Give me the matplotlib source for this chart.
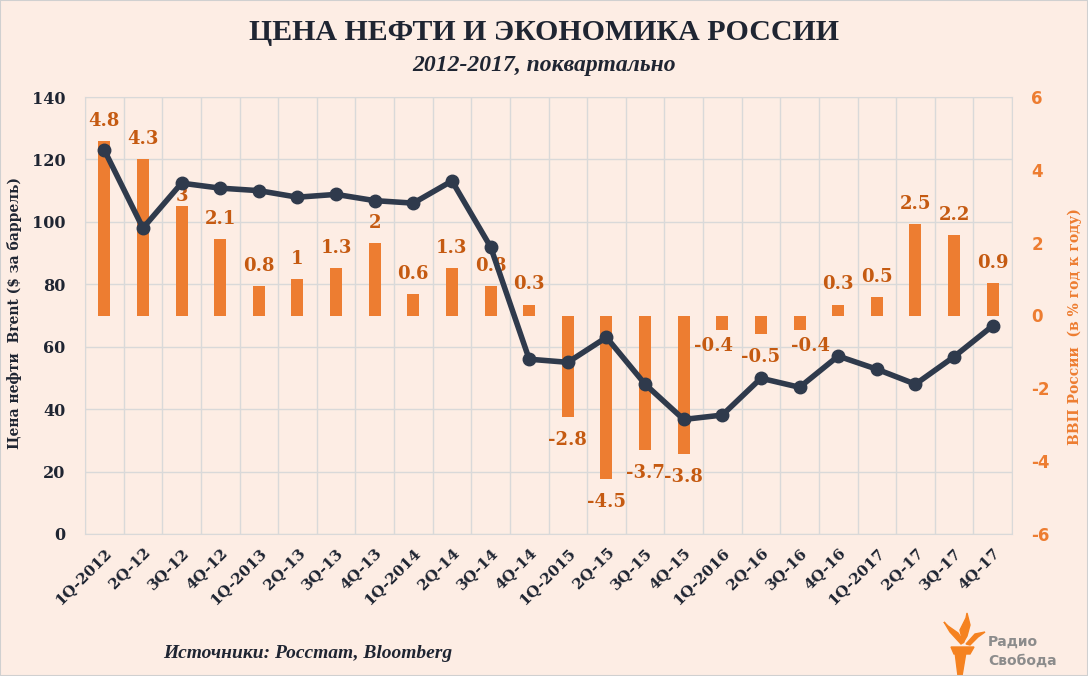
import matplotlib
matplotlib.use('Agg')
import matplotlib.pyplot as plt
import numpy as np
from matplotlib.patches import Polygon

plt.rcParams['axes.unicode_minus'] = False

quarters = ['1Q-2012', '2Q-12', '3Q-12', '4Q-12', '1Q-2013', '2Q-13', '3Q-13', '4Q-13',
            '1Q-2014', '2Q-14', '3Q-14', '4Q-14', '1Q-2015', '2Q-15', '3Q-15', '4Q-15',
            '1Q-2016', '2Q-16', '3Q-16', '4Q-16', '1Q-2017', '2Q-17', '3Q-17', '4Q-17']
brent = [123, 98, 112.4, 110.8, 110, 107.9, 108.8, 106.8, 106, 113.1, 92, 56,
         55, 63, 48, 36.7, 38.1, 49.9, 47, 57, 52.8, 48, 56.8, 66.7]
gdp = [4.8, 4.3, 3, 2.1, 0.8, 1, 1.3, 2, 0.6, 1.3, 0.8, 0.3,
       -2.8, -4.5, -3.7, -3.8, -0.4, -0.5, -0.4, 0.3, 0.5, 2.5, 2.2, 0.9]
gdp_labels = ['4.8', '4.3', '3', '2.1', '0.8', '1', '1.3', '2', '0.6', '1.3', '0.8', '0.3',
              '-2.8', '-4.5', '-3.7', '-3.8', '-0.4', '-0.5', '-0.4', '0.3', '0.5', '2.5', '2.2', '0.9']
left_ticks = [0, 20, 40, 60, 80, 100, 120, 140]
right_ticks = [-6, -4, -2, 0, 2, 4, 6]

BG = '#FDEDE4'
ORANGE = '#ED7D31'
LABEL_OR = '#C55A11'
NAVY = '#2F3A4C'
DARK = '#1F2532'
GRID = '#D9D9D9'

W, H = 1088, 676
fig = plt.figure(figsize=(W / 100, H / 100), dpi=100)
fig.patch.set_facecolor(BG)

pos = [85 / W, 1 - 534 / H, (1012 - 85) / W, (534 - 97) / H]
ax = fig.add_axes(pos)
ax.set_facecolor(BG)
x = np.arange(len(quarters))

ax.set_xlim(-0.5, len(quarters) - 0.5)
ax.set_ylim(0, 140)
ax.set_yticks(left_ticks)
ax.set_xticks(x)
ax.set_xticklabels(quarters, rotation=45, ha='right', rotation_mode='anchor',
                   family='DejaVu Serif', fontweight='bold', fontsize=11, color=DARK)
ax.set_xticks(np.arange(-0.5, len(quarters), 1), minor=True)
ax.tick_params(axis='x', which='both', length=0, pad=8)
ax.tick_params(axis='y', length=0, pad=14)
for lab in ax.get_yticklabels():
    lab.set_family('DejaVu Serif'); lab.set_fontweight('bold'); lab.set_fontsize(11.5); lab.set_color(DARK)
ax.grid(axis='y', which='major', color=GRID, lw=1)
ax.grid(axis='x', which='minor', color=GRID, lw=1)
ax.set_axisbelow(True)
for s in ax.spines.values():
    s.set_color(GRID)
ax.set_ylabel('Цена нефти  Brent ($ за баррель)', family='DejaVu Serif', fontweight='bold',
              fontsize=10, color=DARK)
ax.yaxis.set_label_coords((22 - 85) / 927, (534 - 313) / 437)

ax2 = ax.twinx()
ax2.set_ylim(-6, 6)
ax2.set_yticks(right_ticks)
ax2.bar(x, gdp, width=0.31, color=ORANGE, zorder=2)
ax2.tick_params(axis='y', length=0, pad=14)
for lab in ax2.get_yticklabels():
    lab.set_fontweight('bold'); lab.set_fontsize(12); lab.set_color(ORANGE)
for s in ax2.spines.values():
    s.set_visible(False)
ax2.set_ylabel('ВВП России  (в % год к году)', family='DejaVu Serif', fontweight='bold',
               fontsize=10, color=ORANGE, rotation=90)
ax2.yaxis.set_label_coords((1068 - 85) / 927, (534 - 327) / 437)

nudge_x = {16: -6, 18: 8}
for i, (v, t) in enumerate(zip(gdp, gdp_labels)):
    dx = nudge_x.get(i, 0)
    if v >= 0:
        off = 1 if i == 2 else 8
        ax2.annotate(t, (i, v), xytext=(dx, off), textcoords='offset points', ha='center',
                     va='bottom', family='DejaVu Serif', fontweight='bold', fontsize=13,
                     color=LABEL_OR, zorder=3)
    else:
        off = -5 if v > -1 and i != 17 else -10
        ax2.annotate(t, (i, v), xytext=(dx, off), textcoords='offset points', ha='center',
                     va='top', family='DejaVu Serif', fontweight='bold', fontsize=13,
                     color=LABEL_OR, zorder=3)

ax3 = fig.add_axes(pos, sharex=ax)
ax3.set_ylim(0, 140)
ax3.patch.set_visible(False)
ax3.axis('off')
ax3.plot(x, brent, color=NAVY, lw=4, marker='o', markersize=9, zorder=5, solid_capstyle='round')

fig.text(544 / W, 1 - 33 / H, 'ЦЕНА НЕФТИ И ЭКОНОМИКА РОССИИ', ha='center', va='center',
         family='Liberation Serif', fontweight='bold', fontsize=21.5, color=DARK)
fig.text(544 / W, 1 - 66 / H, '2012-2017, поквартально', ha='center', va='center',
         family='Liberation Serif', fontweight='bold', style='italic', fontsize=17, color=DARK)
fig.text(308 / W, 1 - 653 / H, 'Источники: Росстат, Bloomberg', ha='center', va='center',
         family='Liberation Serif', fontweight='bold', style='italic', fontsize=14, color=DARK)

# logo
lax = fig.add_axes([0, 0, 1, 1])
lax.set_xlim(0, W); lax.set_ylim(H, 0)
lax.axis('off')
lax.patch.set_visible(False)
LOGO = '#F58220'
lax.add_patch(Polygon([(958, 676), (962, 676), (966, 652), (955, 652)], closed=True, color=LOGO))
lax.add_patch(Polygon([(951, 647), (974, 647), (970, 654), (954, 654)], closed=True, color=LOGO))
lax.add_patch(Polygon([(961, 644), (950, 632), (944, 622), (948, 626), (958, 633), (964, 642)], closed=True, color=LOGO))
lax.add_patch(Polygon([(963, 643), (960, 630), (966, 618), (967, 613), (970, 625), (967, 636)], closed=True, color=LOGO))
lax.add_patch(Polygon([(966, 644), (975, 634), (985, 632), (978, 637), (970, 645)], closed=True, color=LOGO))
fig.text(988 / W, 1 - 642 / H, 'Радио', ha='left', va='center', fontsize=10,
         fontweight='bold', color='#8C8C8C')
fig.text(988 / W, 1 - 661 / H, 'Свобода', ha='left', va='center', fontsize=10,
         fontweight='bold', color='#8C8C8C')

fig.patches.append(plt.Rectangle((0, 0), 1, 1, transform=fig.transFigure, fill=False,
                                 edgecolor='#D0D0D0', lw=1.5))

fig.savefig('out.png', dpi=100, facecolor=BG)
